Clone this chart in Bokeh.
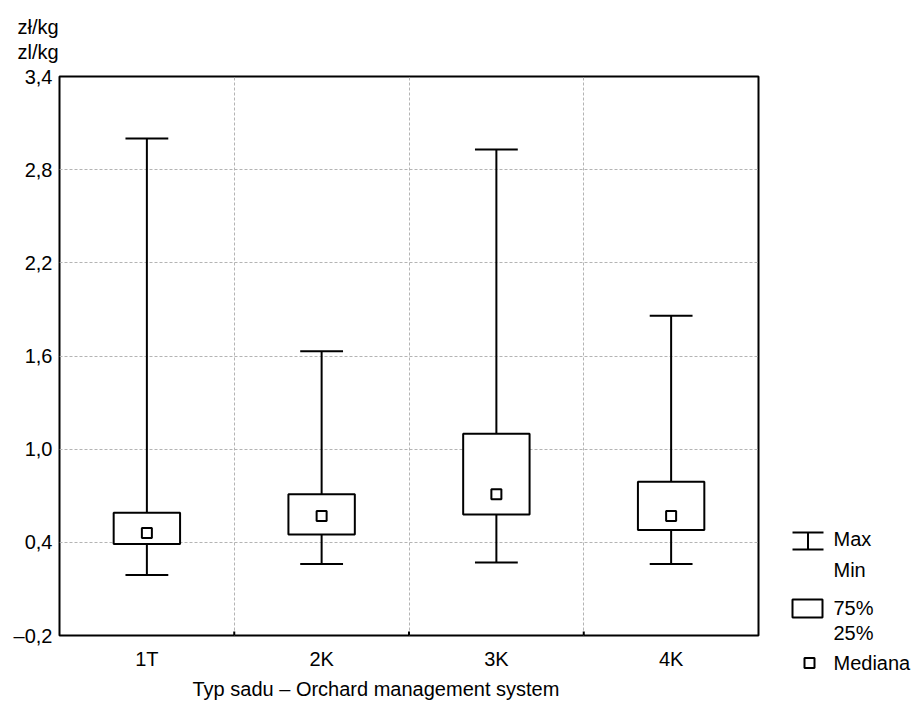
from bokeh.plotting import figure
from bokeh.layouts import row, column
from bokeh.models import Range1d, FixedTicker, ColumnDataSource, Title
from bokeh.core.properties import value
from bokeh.embed import file_html
from bokeh.resources import INLINE

# ---- data ----
categories = ["1T", "2K", "3K", "4K"]
max_vals = [3.00, 1.63, 2.93, 1.86]
q75_vals = [0.59, 0.71, 1.10, 0.79]
median_vals = [0.46, 0.57, 0.71, 0.57]
q25_vals = [0.39, 0.45, 0.58, 0.48]
min_vals = [0.19, 0.26, 0.27, 0.26]
y_ticks = [-0.2, 0.4, 1.0, 1.6, 2.2, 2.8, 3.4]
y_tick_labels = ["–0,2", "0,4", "1,0", "1,6", "2,2", "2,8", "3,4"]
unit_lines = ["zł/kg", "zl/kg"]
x_title = "Typ sadu – Orchard management system"
legend_labels = ["Max", "Min", "75%", "25%", "Mediana"]

FONT = "Liberation Sans"
FS = "20px"
BOX_HALF = 0.19
CAP_HALF = 0.1225

xs = list(range(1, len(categories) + 1))
bounds = [i + 0.5 for i in xs[:-1]]

src = ColumnDataSource(dict(x=xs, mx=max_vals, q3=q75_vals, med=median_vals,
                            q1=q25_vals, mn=min_vals,
                            l=[x - BOX_HALF for x in xs], r=[x + BOX_HALF for x in xs],
                            cl=[x - CAP_HALF for x in xs], cr=[x + CAP_HALF for x in xs]))

# ---- main chart ----
p = figure(width=760, height=703, output_backend="svg", toolbar_location=None,
           x_range=Range1d(0.5, len(categories) + 0.5), y_range=Range1d(-0.2, 3.4),
           min_border_left=59, min_border_right=2, min_border_top=76, min_border_bottom=67)
p.title.visible = False
p.outline_line_color = "black"
p.outline_line_width = 2
p.background_fill_color = "white"
p.border_fill_color = "white"

p.xaxis.ticker = FixedTicker(ticks=xs)
p.xaxis.major_label_overrides = {x: c for x, c in zip(xs, categories)}
p.yaxis.ticker = FixedTicker(ticks=y_ticks)
p.yaxis.major_label_overrides = {t: l for t, l in zip(y_ticks, y_tick_labels)}
for ax in (p.xaxis, p.yaxis):
    ax.axis_line_color = None
    ax.major_tick_in = 0
    ax.major_tick_out = 0
    ax.minor_tick_line_color = None
    ax.major_label_text_font = FONT
    ax.major_label_text_font_size = FS
    ax.major_label_text_color = "black"
p.xaxis.major_label_standoff = 12
p.yaxis.major_label_standoff = 7

p.xgrid.ticker = FixedTicker(ticks=bounds)
p.ygrid.ticker = FixedTicker(ticks=y_ticks[1:-1])
for g in (p.xgrid, p.ygrid):
    g.grid_line_color = "#b4b4b4"
    g.grid_line_dash = "3 2"
    g.grid_line_width = 1

# small inner ticks at category boundaries
p.segment(x0=bounds, x1=bounds, y0=[-0.2] * len(bounds), y1=[-0.175] * len(bounds),
          line_color="black", line_width=2)

# whiskers and caps
p.segment(x0="x", x1="x", y0="mn", y1="mx", source=src, line_color="black", line_width=2)
p.segment(x0="cl", x1="cr", y0="mx", y1="mx", source=src, line_color="black", line_width=2)
p.segment(x0="cl", x1="cr", y0="mn", y1="mn", source=src, line_color="black", line_width=2)
# boxes
p.quad(left="l", right="r", bottom="q1", top="q3", source=src,
       fill_color="white", line_color="black", line_width=2)
# medians
p.scatter(x="x", y="med", source=src, marker="square", size=10, fill_color="white",
          line_color="black", line_width=2)


def side_title(text, offset, standoff):
    return Title(text=text, align="left", offset=offset, standoff=standoff,
                 text_font=FONT, text_font_size=FS, text_font_style="normal",
                 text_color="black", text_line_height=1.15)


# unit lines (two-line title above the frame)
p.add_layout(side_title("\n".join(unit_lines), -42, 27), "above")
# x axis title
p.add_layout(side_title(x_title, 133, 7), "below")

# ---- legend ----
lg = figure(width=155, height=703, output_backend="svg", toolbar_location=None,
            x_range=Range1d(0, 155), y_range=Range1d(703, 0),
            x_axis_location=None, y_axis_location=None,
            min_border=0, min_border_left=0, min_border_right=0,
            min_border_top=0, min_border_bottom=0)
lg.grid.visible = False
lg.outline_line_color = None
lg.border_fill_color = "white"
lg.background_fill_color = "white"

lg.segment(x0=[32, 32, 47.5], x1=[63, 63, 47.5], y0=[532, 549, 532], y1=[532, 549, 549],
           line_color="black", line_width=2)
lg.quad(left=[32], right=[62], top=[599], bottom=[617], fill_color="white",
        line_color="black", line_width=2)
lg.scatter(x=[49], y=[662.5], marker="square", size=10, fill_color="white",
           line_color="black", line_width=2)
lg.text(x=[73] * 5, y=[538, 569, 607, 632, 662], text=legend_labels,
        text_font=value(FONT), text_font_size=FS, text_baseline="middle", text_color="black")

layout = row(column(p), lg)
open("out.html", "w").write(file_html(layout, INLINE))
